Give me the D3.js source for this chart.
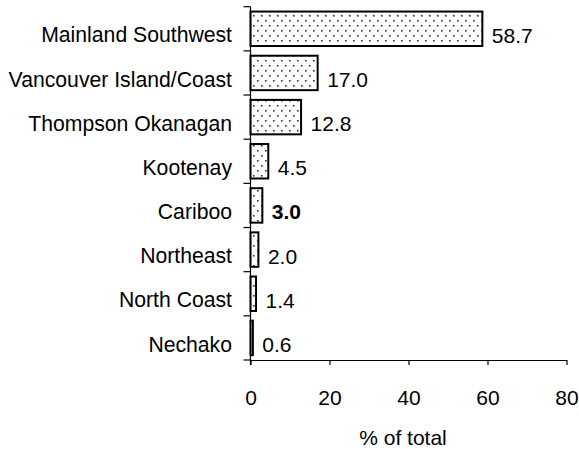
<!DOCTYPE html>
<html><head><meta charset="utf-8">
<script src="https://cdn.jsdelivr.net/npm/d3@7"></script>
<style>body{margin:0;background:#fff}svg{display:block}text{font-family:"Liberation Sans",Arial,sans-serif;fill:#000}</style>
</head><body><svg id="c" width="579" height="449"></svg>
<script>
const categories = ["Mainland Southwest","Vancouver Island/Coast","Thompson Okanagan","Kootenay","Cariboo","Northeast","North Coast","Nechako"];
const values = [58.7,17.0,12.8,4.5,3.0,2.0,1.4,0.6];
const valueLabels = ["58.7","17.0","12.8","4.5","3.0","2.0","1.4","0.6"];
const boldCategory = "Cariboo";
const xTicks = [0,20,40,60,80];
const axisTitle = "% of total";

const svg = d3.select("#c");
const x = d3.scaleLinear().domain([0,80]).range([250.5,566.5]);
const y = d3.scaleBand().domain(categories).range([6.7,360]).paddingInner(0.22).paddingOuter(0.11);
const yb = d3.scaleBand().domain(categories).range([6.7,360]);

const defs = svg.append("defs");
const pat = defs.append("pattern").attr("id","dots").attr("patternUnits","userSpaceOnUse")
  .attr("width",8).attr("height",10).attr("x",251).attr("y",13);
pat.append("rect").attr("width",8).attr("height",10).attr("fill","#fff");
pat.append("rect").attr("x",2).attr("y",2).attr("width",1.6).attr("height",1.6).attr("fill","#333");
pat.append("rect").attr("x",6).attr("y",7).attr("width",1.6).attr("height",1.6).attr("fill","#333");

svg.selectAll("rect.bar").data(values).enter().append("rect").attr("class","bar")
  .attr("x",x(0)).attr("y",(d,i)=>y(categories[i]))
  .attr("width",d=>x(d)-x(0)).attr("height",y.bandwidth())
  .attr("fill","url(#dots)").attr("stroke","#000").attr("stroke-width",2);

// y axis
const gy = svg.append("g").attr("transform",`translate(${x(0)},0)`);
gy.append("line").attr("x1",0).attr("x2",0).attr("y1",6.7).attr("y2",365).attr("stroke","#000").attr("stroke-width",1.2);
const bounds = categories.map(c=>yb(c)).concat([yb(categories[categories.length-1])+yb.bandwidth()]);
gy.selectAll("line.t").data(bounds).enter().append("line").attr("class","t")
  .attr("x1",-7).attr("x2",0).attr("y1",d=>d).attr("y2",d=>d).attr("stroke","#000").attr("stroke-width",1.2);

// x axis
const xAxis = d3.axisBottom(x).tickValues(xTicks).tickSize(5).tickSizeOuter(0).tickPadding(0).tickFormat(d3.format("d"));
const gx = svg.append("g").attr("transform","translate(0,360)").call(xAxis);
gx.select(".domain").attr("stroke","#000").attr("stroke-width",1.2);
gx.selectAll(".tick line").attr("stroke","#000").attr("stroke-width",1.2);
gx.selectAll(".tick text").attr("font-size",21).attr("dy",null).attr("y",45);

// category labels
svg.selectAll("text.cat").data(categories).enter().append("text").attr("class","cat")
  .attr("x",232).attr("y",d=>yb(d)+yb.bandwidth()/2+13.6)
  .attr("text-anchor","end").attr("font-size",21.2).text(d=>d);

// value labels
svg.selectAll("text.val").data(values).enter().append("text").attr("class","val")
  .attr("x",d=>x(d)+9.5).attr("y",(d,i)=>yb(categories[i])+yb.bandwidth()/2+14)
  .attr("font-size",21).attr("font-weight",(d,i)=>categories[i]===boldCategory?"bold":"normal")
  .text((d,i)=>valueLabels[i]);

svg.append("text").attr("x",403).attr("y",445).attr("text-anchor","middle").attr("font-size",21).text(axisTitle);
</script></body></html>
